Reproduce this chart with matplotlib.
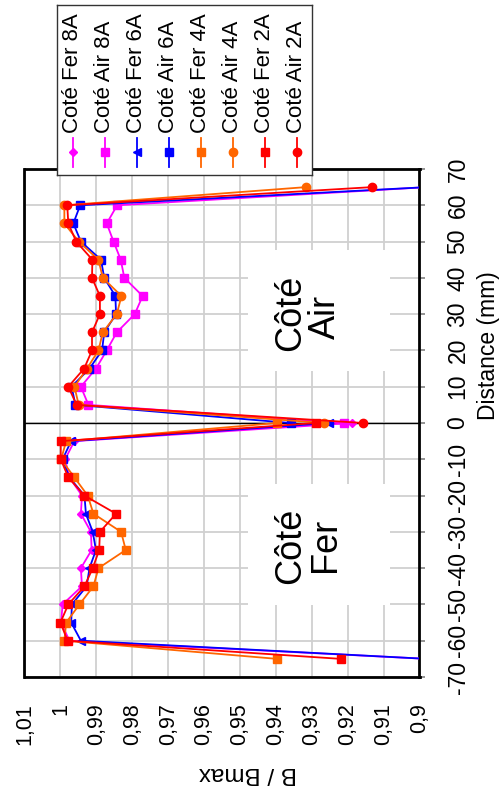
"""
B / Bmax profile along the sheet, Cote Fer / Cote Air, 2A to 8A
(chart is drawn turned a quarter turn, as in the scanned report)
"""

import matplotlib
matplotlib.use('Agg')
import matplotlib.pyplot as plt
from matplotlib.patches import Rectangle

plt.rcParams['font.family'] = ['Liberation Sans', 'DejaVu Sans']

# Data
dist_air = [0, 5, 10, 15, 20, 25, 30, 35, 40, 45, 50, 55, 60, 65]
dist_fer = [0, -5, -10, -15, -20, -25, -30, -35, -40, -45, -50, -55, -60, -65]

air_8A = [0.9211, 0.9922, 0.9943, 0.9901, 0.9871, 0.9843, 0.9793, 0.9771,
          0.9822, 0.9832, 0.9852, 0.9871, 0.9842, 0.898]
air_6A = [0.9359, 0.9958, 0.9969, 0.9919, 0.9884, 0.9878, 0.9845, 0.9847,
          0.9878, 0.9887, 0.9943, 0.9964, 0.9945, 0.898]
air_4A = [0.9265, 0.9949, 0.9961, 0.9926, 0.9894, 0.9882, 0.9843, 0.9830,
          0.9882, 0.9894, 0.9949, 0.9989, 0.9989, 0.9317]
air_2A = [0.9156, 0.9955, 0.9978, 0.9934, 0.9912, 0.9912, 0.9890, 0.9890,
          0.9912, 0.9911, 0.9956, 0.9978, 0.9981, 0.9133]

fer_8A = [0.9189, 0.9961, 0.9987, 0.9975, 0.9940, 0.9943, 0.9915, 0.9913,
          0.9943, 0.9940, 0.9994, 0.9998, 0.9975, 0.898]
fer_6A = [0.9251, 0.9970, 0.9994, 0.9975, 0.9933, 0.9929, 0.9910, 0.9901,
          0.9919, 0.9927, 0.9968, 0.9970, 0.9943, 0.898]
fer_4A = [0.9397, 0.9984, 0.9998, 0.9961, 0.9924, 0.9908, 0.9831, 0.9818,
          0.9894, 0.9908, 0.9947, 0.9984, 0.9989, 0.9397]
fer_2A = [0.9289, 0.9999, 0.9999, 0.9978, 0.9933, 0.9845, 0.9890, 0.9892,
          0.9910, 0.9933, 0.9978, 1.0000, 0.9980, 0.9220]

b_ticks = [1.01, 1.0, 0.99, 0.98, 0.97, 0.96, 0.95, 0.94, 0.93, 0.92, 0.91, 0.9]
b_labels = ['1,01', '1', '0,99', '0,98', '0,97', '0,96', '0,95', '0,94',
            '0,93', '0,92', '0,91', '0,9']
d_ticks = [-70, -60, -50, -40, -30, -20, -10, 0, 10, 20, 30, 40, 50, 60, 70]

# legend order = draw order
series = [
    ('Coté Fer 8A', dist_fer, fer_8A, '#ff00ff', 'D', 4.2),
    ('Coté Air 8A', dist_air, air_8A, '#ff00ff', 's', 5.8),
    ('Coté Fer 6A', dist_fer, fer_6A, '#0000ff', '<', 5.8),
    ('Coté Air 6A', dist_air, air_6A, '#0000ff', 's', 5.8),
    ('Coté Fer 4A', dist_fer, fer_4A, '#ff6600', 's', 5.8),
    ('Coté Air 4A', dist_air, air_4A, '#ff6600', 'o', 6.0),
    ('Coté Fer 2A', dist_fer, fer_2A, '#ff0000', 's', 5.8),
    ('Coté Air 2A', dist_air, air_2A, '#ff0000', 'o', 6.0),
]

W, H = 502, 790
fig = plt.figure(figsize=(W / 100, H / 100), dpi=100)

# plot area in pixels: left 24.5, right 419.5, top 169, bottom 677
ax = fig.add_axes([24.5 / W, 1 - 677 / H, 395 / W, 508 / H])

for name, d, b, col, mk, ms in series:
    ax.plot(b, d, color=col, lw=1.3, marker=mk, ms=ms, mec=col, mfc=col, zorder=3)

ax.set_xlim(1.01, 0.9)
ax.set_ylim(-70, 70)
ax.axhline(0, color='black', lw=1.0, zorder=2)

ax.set_xticks(b_ticks)
ax.set_xticklabels(b_labels, rotation=90, ha='center', va='top', fontsize=15.5)
ax.tick_params(axis='x', length=0, pad=19)

ax.yaxis.tick_right()
ax.set_yticks(d_ticks)
ax.set_yticklabels([str(t) for t in d_ticks], rotation=90, ha='left', va='center',
                   fontsize=16.5)
ax.tick_params(axis='y', direction='out', length=4.5, width=1.2, color='#808080', pad=15)

ax.grid(True, color='#d0d0d0', lw=1.3, zorder=0)
ax.set_axisbelow(True)
for s in ax.spines.values():
    s.set_linewidth(2.0)
    s.set_color('black')

# side annotations on white boxes
ax.add_patch(Rectangle((0.9477, 14.3), 0.9082 - 0.9477, 47.7 - 14.3,
                       fc='white', ec='none', zorder=1))
ax.add_patch(Rectangle((0.9477, -50.1), 0.9082 - 0.9477, 50.1 - 16.8,
                       fc='white', ec='none', zorder=1))
for b_pos, d_pos, txt in [(0.9358, 30.3, 'Côté'), (0.9263, 29.2, 'Air'),
                          (0.9358, -33.9, 'Côté'), (0.9263, -33.6, 'Fer')]:
    ax.text(b_pos, d_pos, txt, rotation=90, ha='center', va='center',
            fontsize=26, zorder=2.5)

# axis titles
fig.text(489 / W, 1 - 346 / H, 'Distance (mm)', rotation=90, ha='center', va='center',
         fontsize=16.5)
fig.text(248 / W, 1 - 773 / H, 'B / Bmax', rotation=180, ha='center', va='center',
         fontsize=17.5)

# legend, built by hand because the entries are turned
lg = fig.add_axes([57 / W, 1 - 175 / H, 255 / W, 170 / H], zorder=5)
lg.set_xlim(0, 255)
lg.set_ylim(170, 0)
lg.set_xticks([])
lg.set_yticks([])
lg.set_facecolor('white')
for s in lg.spines.values():
    s.set_linewidth(1.0)
    s.set_color('#333333')

for i, (name, d, b, col, mk, ms) in enumerate(series):
    cx = 16 + 32 * i
    lg.plot([cx, cx], [133, 162], color=col, lw=1.3)
    lg.plot([cx], [147], marker=mk, ms=ms, color=col, mec=col)
    lg.text(cx, 128, name, rotation=90, ha='center', va='bottom', fontsize=16)

fig.savefig('out.png', dpi=100)
